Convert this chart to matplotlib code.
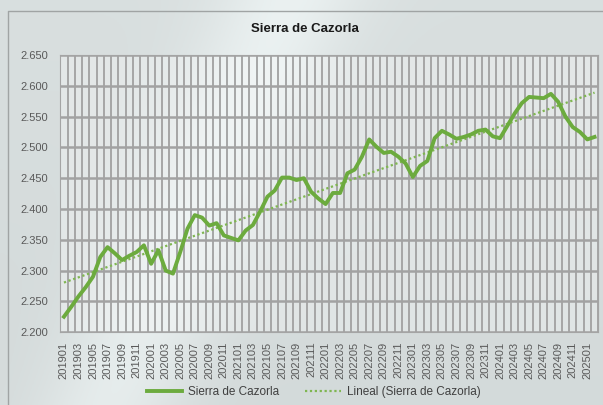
import matplotlib.pyplot as plt
import numpy as np

# Sierra de Cazorla, serie mensual 201901 - 202502
meses = [f'{a}{m:02d}' for a in range(2019, 2026) for m in range(1, 13)][:74]
valores = [2225, 2241, 2258, 2273, 2290, 2322, 2338, 2328, 2317, 2324,
           2330, 2341, 2311, 2333, 2300, 2295, 2330, 2368, 2390, 2386,
           2373, 2377, 2357, 2353, 2349, 2365, 2374, 2396, 2420, 2430,
           2451, 2451, 2447, 2450, 2428, 2417, 2408, 2426, 2426, 2458,
           2464, 2485, 2513, 2501, 2491, 2493, 2485, 2474, 2452, 2470,
           2478, 2515, 2527, 2521, 2514, 2517, 2521, 2527, 2529, 2518,
           2515, 2535, 2555, 2572, 2582, 2581, 2580, 2587, 2574, 2550,
           2533, 2525, 2513, 2517]

plt.rcParams['font.family'] = ['Liberation Sans', 'DejaVu Sans']

verde = '#6cab3e'
x = np.arange(len(valores))
coef = np.polyfit(x, valores, 1)
tendencia = np.polyval(coef, x)

fig = plt.figure(figsize=(6.03, 4.05), dpi=100)

# fondo con degradado (tono gris verdoso claro y una franja clara)
bg = fig.add_axes([0, 0, 1, 1], zorder=-10)
gy, gx = np.mgrid[0:1:200j, 0:1:300j]
luz = 0.07 * np.exp(-((gx - 0.33 + 0.3 * (gy - 0.5)) ** 2) / 0.015) - 0.02 * gy
base = np.array([0.85, 0.875, 0.875])
fondo = np.clip(base[None, None, :] + luz[:, :, None], 0, 1)
bg.imshow(fondo, aspect='auto', extent=[0, 1, 0, 1])
bg.plot([0.014, 0.014, 1.0], [0.0, 0.973, 0.973], color='#a0a4a4', lw=1)
bg.set_xlim(0, 1)
bg.set_ylim(0, 1)
bg.axis('off')

ax = fig.add_axes([0.100, 0.180, 0.892, 0.684])
ax.set_facecolor((1, 1, 1, 0.3))

for i in range(len(valores) + 1):
    ax.axvline(i - 0.5, color='#a6a6a6', lw=1.4, zorder=1)
for v in range(2200, 2651, 50):
    ax.axhline(v, color='#a2a2a2', lw=1.8, zorder=1)

ax.plot(x, valores, color=verde, lw=2.8, solid_joinstyle='round', zorder=3, label='Sierra de Cazorla')
ax.plot(x, tendencia, color='#7fb651', lw=1.6, ls=(0, (1, 1.2)), zorder=2, label='Lineal (Sierra de Cazorla)')

ax.set_xlim(-0.5, len(valores) - 0.5)
ax.set_ylim(2200, 2650)
ax.set_yticks(range(2200, 2651, 50))
ax.set_yticklabels([f'{v // 1000}.{v % 1000:03d}' for v in range(2200, 2651, 50)])
ax.set_xticks(x[::2])
ax.set_xticklabels(meses[::2], rotation=90)
ax.tick_params(axis='both', length=0, colors='#595959', labelsize=8)
ax.tick_params(axis='y', pad=9)
ax.tick_params(axis='x', pad=7)
for s in ax.spines.values():
    s.set_color('#a4a4a4')

fig.text(0.505, 0.928, 'Sierra de Cazorla', ha='center', va='center', fontsize=9.5,
         fontweight='bold', color='#1a1a1a')

fig.legend(loc='center', bbox_to_anchor=(0.52, 0.032), ncol=2, frameon=False,
           fontsize=8.5, handlelength=3.0, handletextpad=0.5, columnspacing=2.2,
           labelcolor='#404040')

plt.savefig('out.png', dpi=100)
